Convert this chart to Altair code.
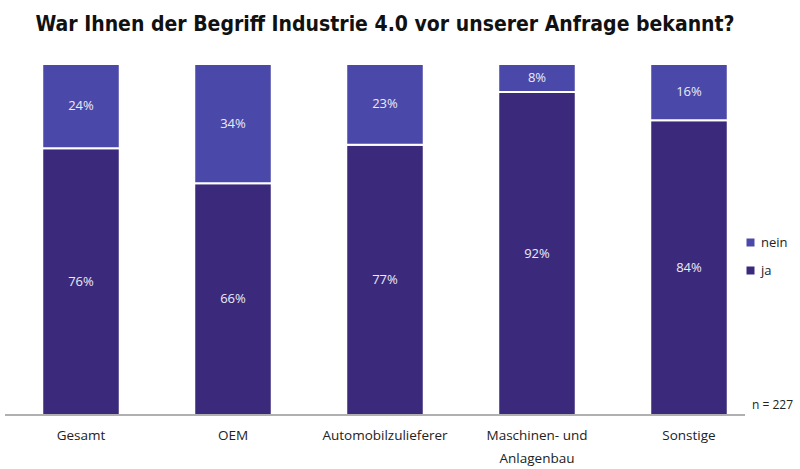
import altair as alt
import pandas as pd

categories = ["Gesamt", "OEM", "Automobilzulieferer", "Maschinen- und Anlagenbau", "Sonstige"]
ja = [76, 66, 77, 92, 84]
nein = [24, 34, 23, 8, 16]
series = ["nein", "ja"]
colors = ["#4a48a8", "#3b2a7c"]
note = "n = 227"
title = "War Ihnen der Begriff Industrie 4.0 vor unserer Anfrage bekannt?"

rows = []
for c, j, n in zip(categories, ja, nein):
    rows.append({"cat": c, "answer": "ja", "value": j, "order": 0})
    rows.append({"cat": c, "answer": "nein", "value": n, "order": 1})
df = pd.DataFrame(rows)

W, H = 760, 351
FONT = "Open Sans"
TFONT = "DejaVu Sans Condensed, Liberation Sans Narrow, DejaVu Sans"

base = alt.Chart(df).transform_stack(
    stack="value", groupby=["cat"], as_=["y0", "y1"],
    sort=[alt.SortField("order", order="ascending")]
).transform_calculate(
    mid="(datum.y0 + datum.y1) / 2", label="datum.value + '%'"
)

x = alt.X(
    "cat:N", sort=categories,
    scale=alt.Scale(paddingInner=0.49, paddingOuter=0.245),
    axis=alt.Axis(
        title=None, labelAngle=0, domain=False, ticks=False, grid=False,
        labelExpr="datum.label == 'Maschinen- und Anlagenbau' ? ['Maschinen- und', 'Anlagenbau'] : datum.label",
        labelFontSize=13.5, labelPadding=13, labelFont=FONT, labelColor="#222222",
        labelLineHeight=23,
    ),
)
yscale = alt.Scale(domain=[0, 100])

bars = base.mark_bar(stroke="white", strokeWidth=2).encode(
    x=x,
    y=alt.Y("y0:Q", scale=yscale, axis=None),
    y2="y1:Q",
    color=alt.Color(
        "answer:N",
        scale=alt.Scale(domain=series, range=colors),
        legend=alt.Legend(
            title=None, orient="none", legendX=739, legendY=172,
            symbolType="square", symbolSize=64, symbolStrokeWidth=0,
            labelFontSize=13, labelFont=FONT, labelColor="#222222", rowPadding=14,
        ),
    ),
)

labels = base.mark_text(color="#ececf6", fontSize=13, font=FONT).encode(
    x=alt.X("cat:N", sort=categories),
    y=alt.Y("mid:Q", scale=yscale),
    text="label:N",
)

axisline = alt.Chart(df).mark_rule(color="#b0b0b0", strokeWidth=1.5).encode(
    x=alt.value(0), x2=alt.value(740), y=alt.value(H)
)

ntext = alt.Chart(pd.DataFrame({"t": [note]})).mark_text(
    align="left", fontSize=12, font=FONT, color="#222222"
).encode(x=alt.value(747), y=alt.value(341), text="t:N")

chart = alt.layer(bars, labels, axisline, ntext).properties(
    width=W, height=H,
    title=alt.TitleParams(title, fontSize=21, font=TFONT, fontWeight="bold",
                          anchor="middle", color="#111111", offset=28),
    autosize=alt.AutoSizeParams(type="none"),
    padding={"left": 5, "top": 64, "right": 35, "bottom": 54},
    background="white",
).configure_view(stroke=None)

chart.save("out.html", embed_options={"renderer": "svg", "actions": False})
